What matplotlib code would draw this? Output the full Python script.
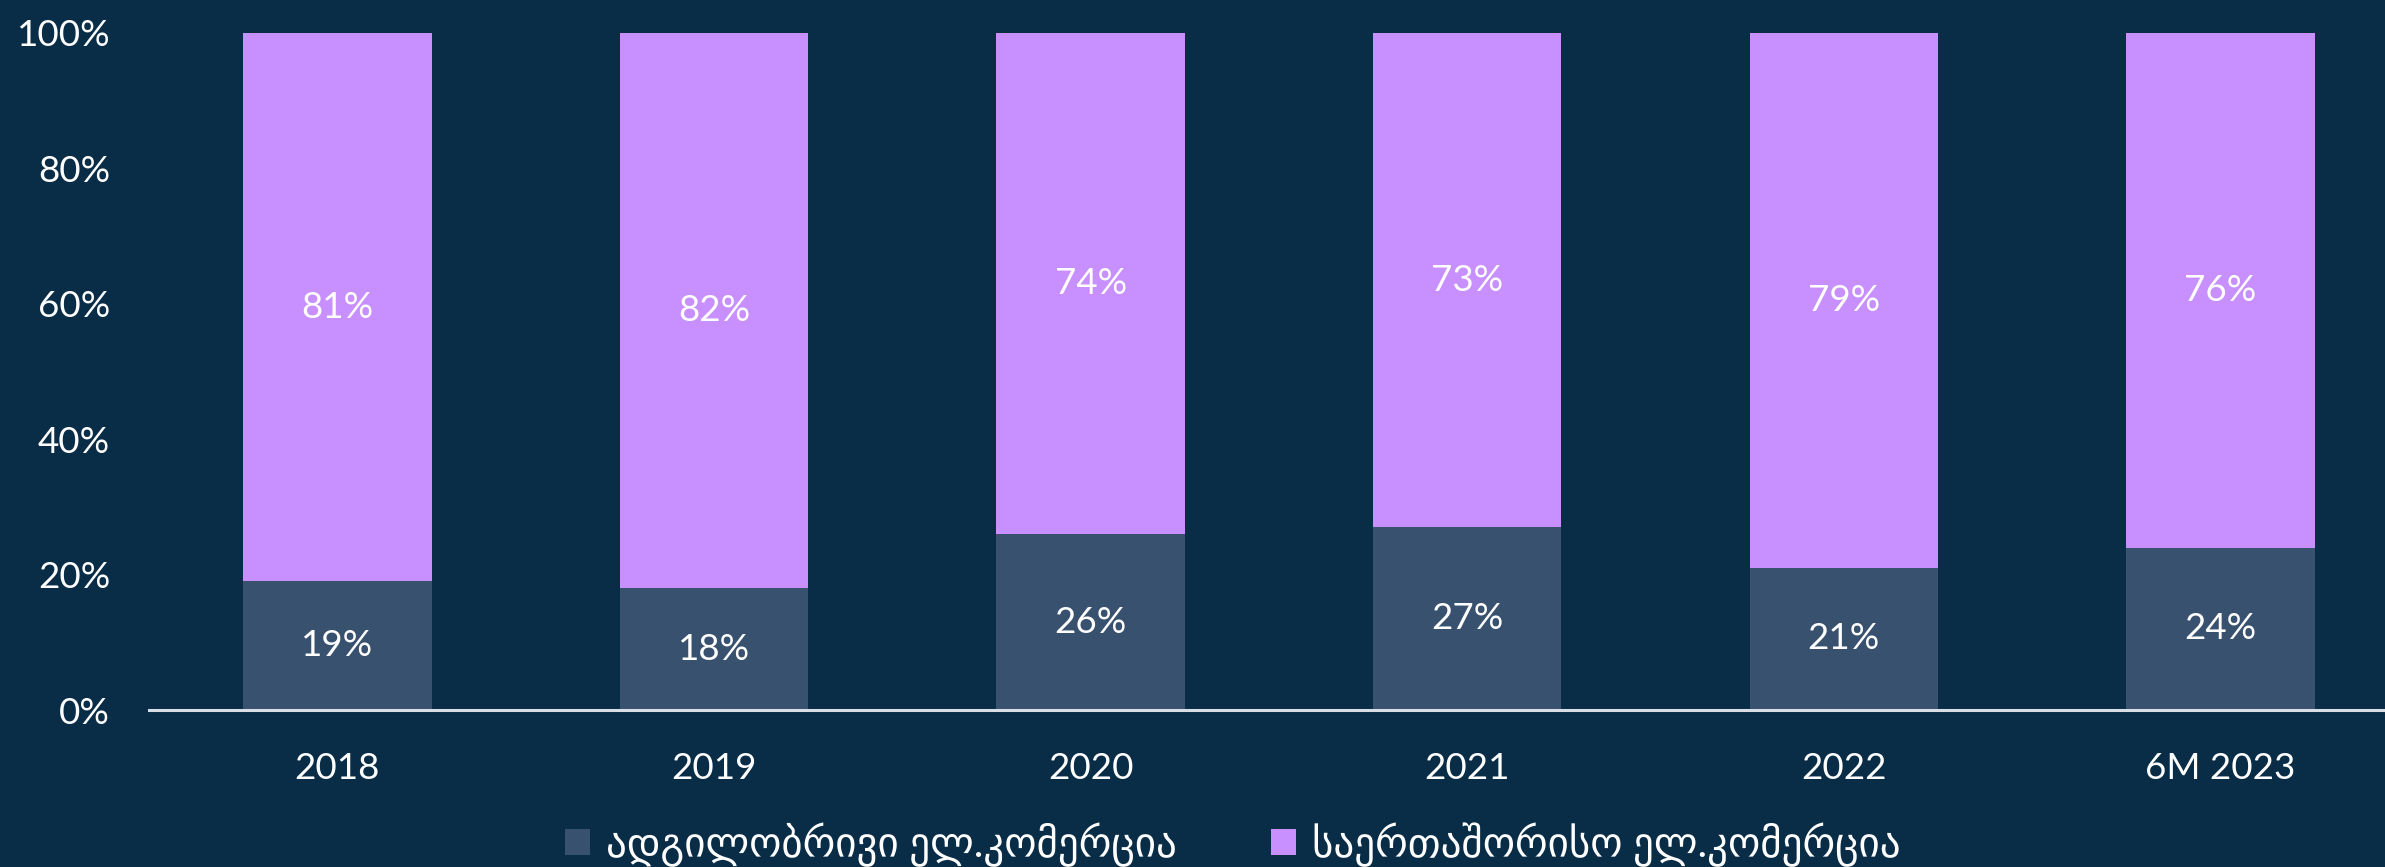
import matplotlib

matplotlib.use("Agg")
import matplotlib.pyplot as plt
from matplotlib.patches import Patch

# Share of e-commerce: local vs international, per period
periods = ["2018", "2019", "2020", "2021", "2022", "6M 2023"]
local_share = [19, 18, 26, 27, 21, 24]
intl_share = [81, 82, 74, 73, 79, 76]
series_names = ["ადგილობრივი ელ.კომერცია", "საერთაშორისო ელ.კომერცია"]
y_ticks = [0, 20, 40, 60, 80, 100]

BG = "#092c47"
LOCAL_COLOR = "#38516f"
INTL_COLOR = "#c88ffe"
TEXT_COLOR = "white"
FONT = ["Lato", "DejaVu Sans"]

plt.rcParams["font.family"] = FONT

fig = plt.figure(figsize=(23.85, 8.67), dpi=100, facecolor=BG)
ax = fig.add_axes([0.0625, 0.181, 0.9375, 0.781])
ax.set_facecolor(BG)

x = list(range(len(periods)))
bars_local = ax.bar(x, local_share, width=0.5, color=LOCAL_COLOR, linewidth=0)
bars_intl = ax.bar(x, intl_share, width=0.5, bottom=local_share,
                   color=INTL_COLOR, linewidth=0)

for bars in (bars_local, bars_intl):
    ax.bar_label(bars, labels=[f"{v.get_height():.0f}%" for v in bars],
                 label_type="center", color=TEXT_COLOR, fontsize=26.5)

ax.set_xlim(-0.5, 5.437)
ax.set_ylim(0, 100)
ax.set_xticks(x)
ax.set_xticklabels(periods)
ax.set_yticks(y_ticks)
ax.set_yticklabels([f"{t}%" for t in y_ticks])
ax.tick_params(axis="both", length=0, colors=TEXT_COLOR, labelsize=26.5)
ax.tick_params(axis="y", pad=28)
ax.tick_params(axis="x", pad=30)

for side in ("top", "right", "left"):
    ax.spines[side].set_visible(False)
ax.spines["bottom"].set_color("#d8dde6")
ax.spines["bottom"].set_linewidth(2.2)

handles = [Patch(facecolor=LOCAL_COLOR, label=series_names[0]),
           Patch(facecolor=INTL_COLOR, label=series_names[1])]
leg = fig.legend(handles=handles, loc="center", bbox_to_anchor=(0.517, 0.026),
                 ncol=2, frameon=False, fontsize=29.5, handlelength=0.6,
                 handleheight=0.6, handletextpad=0.4, columnspacing=2.3)
for t in leg.get_texts():
    t.set_color(TEXT_COLOR)

fig.savefig("out.png", dpi=100, facecolor=BG)
